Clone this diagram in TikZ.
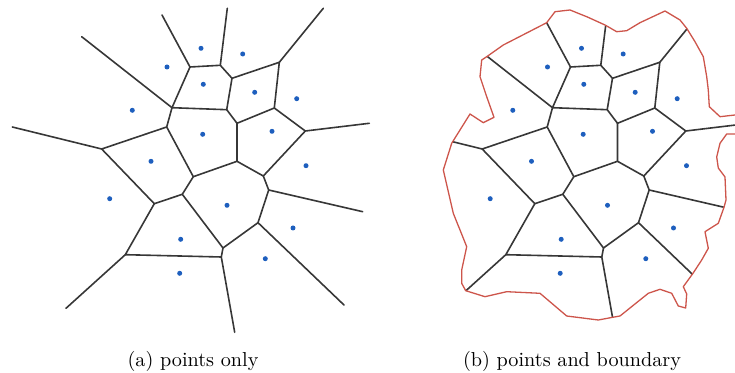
\documentclass[tikz,border=0pt]{standalone}
\definecolor{edgecol}{RGB}{55,55,55}
\definecolor{dotcol}{RGB}{30,95,190}
\definecolor{bndcol}{RGB}{205,85,75}
\tikzset{
  edge/.style={draw=edgecol, line width=0.8pt, line join=round, line cap=round},
  bnd/.style={draw=bndcol, line width=0.65pt, line join=round},
  site/.style={fill=dotcol},
  caption/.style={inner sep=0pt, font=\fontsize{10.1}{12}\selectfont}
}
\newcommand{\voroVerts}{%
  \coordinate (A) at (190,67);
  \coordinate (B) at (220.3,65.3);
  \coordinate (C) at (232,78.3);
  \coordinate (D) at (279.3,62.3);
  \coordinate (E) at (274.3,108);
  \coordinate (F) at (226.7,109.7);
  \coordinate (G) at (172,107.7);
  \coordinate (H) at (237,123.3);
  \coordinate (I) at (166.7,127);
  \coordinate (J) at (305.3,131);
  \coordinate (K) at (101.7,149);
  \coordinate (L) at (237,161.3);
  \coordinate (M) at (193.3,176.7);
  \coordinate (N) at (263.3,176);
  \coordinate (O) at (268.7,190);
  \coordinate (P) at (182.3,194.3);
  \coordinate (Q) at (154.3,203.7);
  \coordinate (R) at (258,222.7);
  \coordinate (S) at (223,248);
  \coordinate (T) at (125.3,254.7);
  \coordinate (U) at (221.3,257);
  \coordinate (rA) at (162,15);
  \coordinate (rB) at (227.3,8.3);
  \coordinate (rD) at (323.3,8.3);
  \coordinate (rG) at (81.7,36.7);
  \coordinate (rK) at (12.3,127);
  \coordinate (rJ) at (369.3,123.3);
  \coordinate (rO) at (362.7,211.7);
  \coordinate (rR) at (344,305);
  \coordinate (rU) at (234.7,332.3);
  \coordinate (rT) at (66,308.3);
}
\newcommand{\voroEdges}{%
  \draw[edge] (A) -- (B) -- (C) -- (D) -- (E) -- (J) -- (N) -- (O) -- (R) -- (S) -- (U) -- (T) -- (Q) -- (K) -- (I) -- (G) -- cycle;
  \draw[edge] (G) -- (F) -- (C);
  \draw[edge] (F) -- (H) -- (E);
  \draw[edge] (H) -- (L) -- (N);
  \draw[edge] (L) -- (M) -- (I);
  \draw[edge] (M) -- (P) -- (S);
  \draw[edge] (P) -- (Q);
  \draw[edge] (A) -- (rA);
  \draw[edge] (B) -- (rB);
  \draw[edge] (D) -- (rD);
  \draw[edge] (G) -- (rG);
  \draw[edge] (K) -- (rK);
  \draw[edge] (J) -- (rJ);
  \draw[edge] (O) -- (rO);
  \draw[edge] (R) -- (rR);
  \draw[edge] (U) -- (rU);
  \draw[edge] (T) -- (rT);
}
\newcommand{\voroSites}{%
  \foreach \p in {(201,48.3),(242.7,54),(167,67),(203.3,84.3),(254.7,92.3),(296.7,98.7),
                  (132.3,110.3),(202.7,134.3),(272,131.3),(151,161.3),(306,165.7),
                  (109.7,198.7),(227,205.3),(293,228),(180.7,239.3),(265.3,258.7),(179.7,273.3)}
    \fill[site] \p circle[radius=1.25pt];
}
\newcommand{\bndpath}{(546.7,22.7) -- (555,11.7) -- (570,10) -- (586.7,16.7) -- (605,25) -- (616.7,31.7)
  -- (626.7,30.7) -- (640,22.7) -- (665,11) -- (680,20) -- (686.7,28.3) -- (695,41.7) -- (703.3,56.7)
  -- (706.7,76.7) -- (708.3,90) -- (709.3,106.7) -- (720,116.7) -- (735,115) -- (750,114) -- (750,134)
  -- (735,134) -- (726.7,134) -- (720,143.3) -- (716.7,157) -- (718.3,168) -- (725,177) -- (726,200)
  -- (724,207.3) -- (718.3,223.3) -- (705,231.7) -- (708.3,248.3) -- (701.7,260) -- (693,273.3)
  -- (683.3,286.7) -- (686.7,294) -- (685.7,308) -- (678.3,306) -- (671.7,293.3) -- (660,289.3)
  -- (648.3,293.3) -- (620,316) -- (612.7,317.3) -- (598.3,320) -- (566.7,316) -- (540,293.3)
  -- (506.7,291.7) -- (485,296.7) -- (465.7,290.7) -- (461.7,283.3) -- (461.7,270) -- (466.7,246.7)
  -- (453.3,213.3) -- (443.3,170) -- (451.7,143.3) -- (460,130) -- (470,114) -- (483.3,122.7)
  -- (494,117.3) -- (486.7,96.7) -- (480,76.7) -- (481.7,60) -- (486.7,56.7) -- (503.3,45) -- cycle}
\begin{document}
\begin{tikzpicture}[x=0.5pt,y=-0.5pt]
  \useasboundingbox (0,0) rectangle (735,373);
  % (a) points only
  \begin{scope}
    \voroVerts
    \voroEdges
    \voroSites
  \end{scope}
  % (b) points and boundary
  \begin{scope}
    \clip \bndpath;
    \begin{scope}[shift={(380.5,0)}]
      \voroVerts
      \voroEdges
    \end{scope}
  \end{scope}
  \begin{scope}[shift={(380.5,0)}]
    \voroSites
  \end{scope}
  \draw[bnd] \bndpath;
  \node[caption] (capa) at (193,361) {(a) points only};
  \node[caption] (capb) at (572,361) {(b) points and boundary};
\end{tikzpicture}
\end{document}
